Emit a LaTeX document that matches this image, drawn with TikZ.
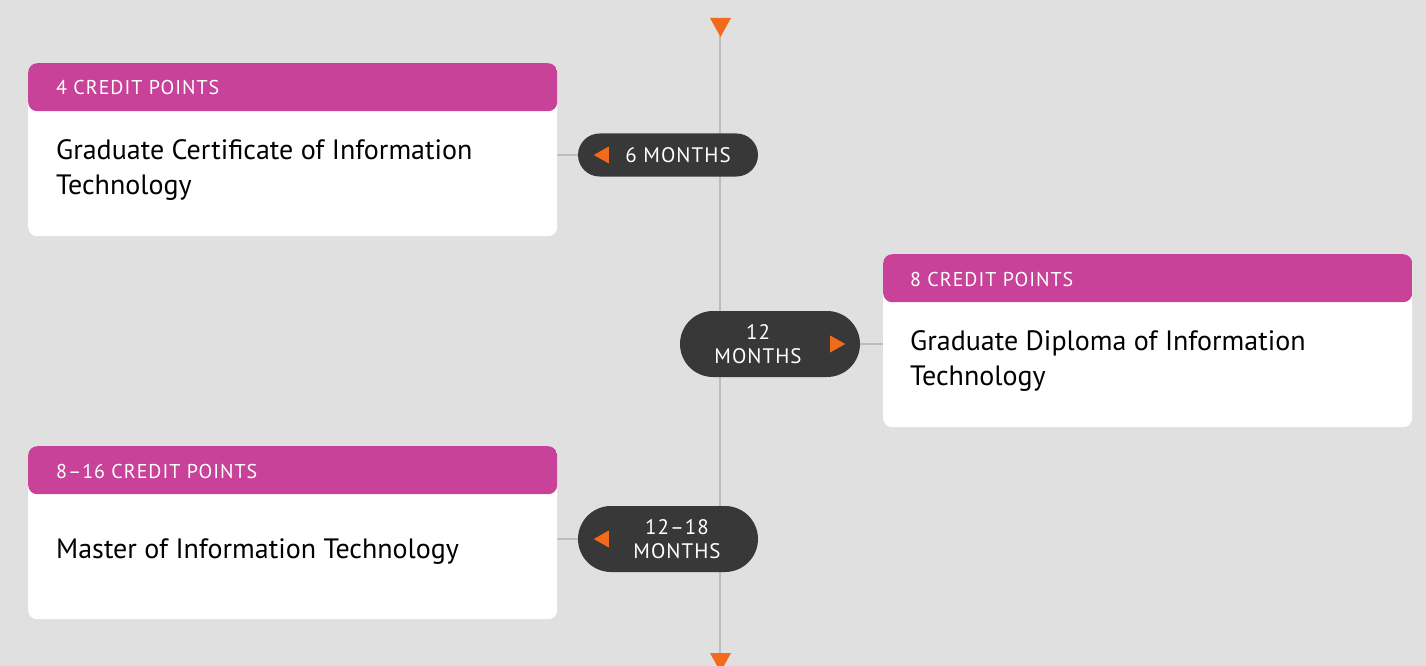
\documentclass[tikz,border=0pt]{standalone}
\usepackage{fontspec}
\setmainfont{PT Sans}
\usetikzlibrary{positioning, calc, shapes.misc, backgrounds}
\definecolor{bg}{HTML}{E0E0E0}
\definecolor{credit}{HTML}{C8429A}
\definecolor{pill}{HTML}{383838}
\definecolor{tick}{HTML}{F26A1B}
\definecolor{rail}{HTML}{BDBDBD}

\tikzset{
  card/.style={fill=white, rounded corners=9pt, minimum width=529pt, minimum height=173pt,
    inner sep=0pt, anchor=north west,
    path picture={\fill[credit] (path picture bounding box.north west) rectangle
      ([yshift=-48pt]path picture bounding box.north east);}},
  points/.style={font=\fontsize{20}{22}\selectfont\addfontfeature{LetterSpace=5}, text=white, anchor=west, inner sep=0pt},
  course/.style={font=\fontsize{28}{35}\selectfont, align=left, anchor=west, inner sep=0pt},
  duration/.style={rounded rectangle, fill=pill, minimum width=180pt, inner sep=0pt},
  months/.style={font=\fontsize{21}{24}\selectfont\addfontfeature{LetterSpace=5}, text=white, align=center, inner sep=0pt},
  link/.style={draw=rail, line width=2.5pt},
  marker/.style={fill=tick}
}

\begin{document}
\begin{tikzpicture}[x=1pt, y=-1pt]
  \useasboundingbox (0,0) rectangle (1426,666);

  % cards
  \node[card] (gc) at (28,63) {};
  \node[points] (gcpts) at ([xshift=28pt, yshift=-25pt]gc.north west) {4 CREDIT POINTS};
  \node[course] (gctxt) at ([xshift=28pt, yshift=-106.5pt]gc.north west) {Graduate Certificate of Information\\Technology};

  \node[card] (gd) at (883,254) {};
  \node[points] (gdpts) at ([xshift=27pt, yshift=-25pt]gd.north west) {8 CREDIT POINTS};
  \node[course] (gdtxt) at ([xshift=27pt, yshift=-106.5pt]gd.north west) {Graduate Diploma of Information\\Technology};

  \node[card] (mit) at (28,446) {};
  \node[points] (mitpts) at ([xshift=28pt, yshift=-25pt]mit.north west) {8--16 CREDIT POINTS};
  \node[course] (mittxt) at ([xshift=28pt, yshift=-106pt]mit.north west) {Master of Information Technology};

  % durations
  \node[duration, minimum height=43pt] (m6) at (668,155) {};
  \node[duration, minimum height=66pt] (m12) at (770,344) {};
  \node[duration, minimum height=66pt] (m18) at (668,539) {};

  \node[months] (m6txt) at ([xshift=10pt]m6.center) {6 MONTHS};
  \node[months] (m12txt) at ([xshift=-12pt]m12.center) {12\\MONTHS};
  \node[months] (m18txt) at ([xshift=9pt]m18.center) {12--18\\MONTHS};

  \fill[marker] ([xshift=16pt]m6.west) -- ++(15,-8.5) -- ++(0,17) -- cycle;
  \fill[marker] ([xshift=-15pt]m12.east) -- ++(-15,-8.5) -- ++(0,17) -- cycle;
  \fill[marker] ([xshift=16pt]m18.west) -- ++(15,-8.5) -- ++(0,17) -- cycle;

  % time line
  \coordinate (start) at (720,20);
  \coordinate (finish) at (720,660);
  \begin{pgfonlayer}{background}
    \fill[bg] (0,0) rectangle (1426,666);
    \draw[link] (start) -- (finish);
    \draw[link] (m6.west -| gc.east) -- (m6.west);
    \draw[link] (m12.east) -- (m12.east -| gd.west);
    \draw[link] (m18.west -| mit.east) -- (m18.west);
  \end{pgfonlayer}
  \fill[marker] (710,18) -- (731,18) -- (720.5,37) -- cycle;
  \fill[marker] (710,653) -- (731,653) -- (720.5,672) -- cycle;
\end{tikzpicture}
\end{document}
